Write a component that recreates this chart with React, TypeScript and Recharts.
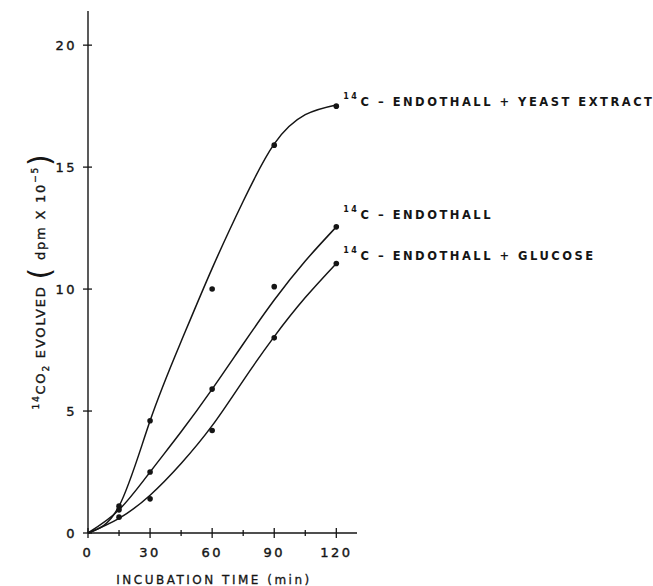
import React from 'react';
import { LineChart, Line, XAxis, YAxis } from 'recharts';

// measured points: incubation time (min) vs 14CO2 evolved (dpm x 10^-5)
const minutes = [15, 30, 60, 90, 120];
const yeastExtract = [1.1, 4.6, 10.0, 15.9, 17.5];
const endothall = [0.95, 2.5, 5.9, 10.1, 12.55];
const glucose = [0.65, 1.4, 4.2, 8.0, 11.05];

// hand-drawn fitted curves, every 15 min
const curveMinutes = [0, 15, 30, 45, 60, 75, 90, 105, 120];
const yeastCurve = [0, 1.1, 4.6, 7.85, 10.85, 13.6, 15.95, 17.15, 17.55];
const endothallCurve = [0, 0.95, 2.5, 4.15, 5.9, 7.75, 9.55, 11.15, 12.55];
const glucoseCurve = [0, 0.6, 1.55, 2.85, 4.4, 6.25, 8.05, 9.65, 11.05];

const xTicks = [0, 15, 30, 45, 60, 75, 90, 105, 120];
const xLabelled = [0, 30, 60, 90, 120];
const yTicks = [0, 5, 10, 15, 20];

const series = [
  { key: 'yeast', text: 'C – ENDOTHALL + YEAST EXTRACT', dy: 0, points: yeastExtract, curve: yeastCurve },
  { key: 'endothall', text: 'C – ENDOTHALL', dy: -8, points: endothall, curve: endothallCurve },
  { key: 'glucose', text: 'C – ENDOTHALL + GLUCOSE', dy: -3, points: glucose, curve: glucoseCurve },
];

const INK = '#151515';
const FONT = '"DejaVu Sans", sans-serif';

const XTick = (props: any) => {
  const { x, y, payload } = props;
  const major = xLabelled.includes(payload.value);
  const h = major ? 5 : 3;
  return (
    <g>
      <line x1={x} x2={x} y1={y - h} y2={y + h} stroke={INK} strokeWidth={1.3} />
      {major && (
        <text x={x} y={y + 24} textAnchor="middle" fill={INK} stroke={INK} strokeWidth={0.4} fontFamily={FONT} fontSize={13} letterSpacing={2.5}>
          {payload.value}
        </text>
      )}
    </g>
  );
};

const YTick = (props: any) => {
  const { x, y, payload } = props;
  return (
    <g>
      <line x1={x - 5} x2={x + 4} y1={y} y2={y} stroke={INK} strokeWidth={1.3} />
      <text x={x - 11} y={y + 5} textAnchor="end" fill={INK} stroke={INK} strokeWidth={0.4} fontFamily={FONT} fontSize={13} letterSpacing={2.5}>
        {payload.value}
      </text>
    </g>
  );
};

const pointDot = (props: any) => {
  const { cx, cy, index } = props;
  return <circle key={index} cx={cx} cy={cy} r={2.8} fill={INK} />;
};

const seriesLabel = (text: string, dy: number) => (props: any) => {
  const { x, y, index } = props;
  if (index !== minutes.length - 1) return null;
  return (
    <text x={x + 7} y={y + dy} fill={INK} fontFamily={FONT} fontWeight="bold" fontSize={11.5} letterSpacing={2.5}>
      <tspan fontSize={8} dy={-7}>14</tspan>
      <tspan dy={7} dx={1}>{text}</tspan>
    </text>
  );
};

const XLabel = (props: any) => {
  const { viewBox } = props;
  return (
    <text x={214} y={viewBox.y + 51} textAnchor="middle" fill={INK} stroke={INK} strokeWidth={0.3} fontFamily={FONT} fontSize={12} letterSpacing={2.5}>
      INCUBATION TIME (min)
    </text>
  );
};

const YLabel = (props: any) => {
  const { viewBox } = props;
  const cy = viewBox.y + viewBox.height / 2 + 9;
  return (
    <text transform={`translate(45, ${cy}) rotate(-90)`} textAnchor="middle" fill={INK} stroke={INK} strokeWidth={0.35} fontFamily={FONT} fontSize={13} letterSpacing={1.8}>
      <tspan fontSize={9} dy={-6}>14</tspan>
      <tspan dy={6}>CO</tspan>
      <tspan fontSize={9} dy={4}>2</tspan>
      <tspan dy={-4}>{'  EVOLVED  '}</tspan>
      <tspan fontSize={30} strokeWidth={0} dy={5}>(</tspan>
      <tspan dy={-5}>{' dpm X 10'}</tspan>
      <tspan fontSize={9} dy={-7}>−5</tspan>
      <tspan fontSize={30} strokeWidth={0} dy={12}>)</tspan>
    </text>
  );
};

const App = () => {
  return (
    <div style={{ position: 'absolute', left: 0, top: 0, width: 653, height: 586, background: '#fff' }}>
      <LineChart width={653} height={586} margin={{ top: 11, right: 296, bottom: 0, left: 0 }}>
        <XAxis
          dataKey="minutes"
          type="number"
          domain={[0, 130]}
          ticks={xTicks}
          interval={0}
          tickSize={0}
          tickMargin={0}
          tick={<XTick />}
          height={53}
          axisLine={{ stroke: INK, strokeWidth: 1.4 }}
          label={<XLabel />}
        />
        <YAxis
          type="number"
          domain={[0, 21.4]}
          ticks={yTicks}
          interval={0}
          tickSize={0}
          tickMargin={0}
          tick={<YTick />}
          width={88}
          axisLine={{ stroke: INK, strokeWidth: 1.4 }}
          label={<YLabel />}
        />
        {series.map((s) => (
          <Line
            key={s.key + '-curve'}
            data={curveMinutes.map((m, i) => ({ minutes: m, value: s.curve[i] }))}
            dataKey="value"
            type="natural"
            stroke={INK}
            strokeWidth={1.5}
            dot={false}
            activeDot={false}
            isAnimationActive={false}
          />
        ))}
        {series.map((s) => (
          <Line
            key={s.key + '-points'}
            data={minutes.map((m, i) => ({ minutes: m, value: s.points[i] }))}
            dataKey="value"
            stroke="none"
            dot={pointDot}
            activeDot={false}
            label={seriesLabel(s.text, s.dy)}
            isAnimationActive={false}
          />
        ))}
      </LineChart>
    </div>
  );
};

export default App;
